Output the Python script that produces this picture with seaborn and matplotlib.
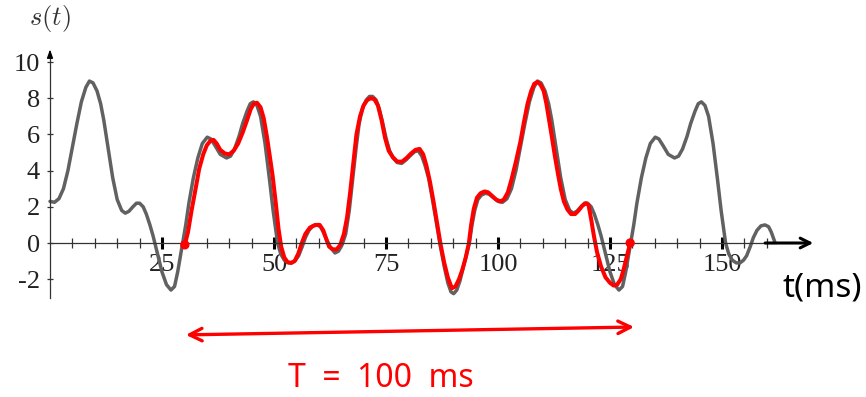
import numpy as np
import matplotlib
matplotlib.use("Agg")
import matplotlib.pyplot as plt
import seaborn as sns

# signal s(t) (t in ms)
gray_t = [0, 1, 2, 3, 4, 5, 6, 7, 8, 8.8, 9.6, 10.5, 11.3, 12, 13, 14, 15, 16, 16.8, 17.6, 18.5, 19.3,
          20, 20.8, 21.5, 22.3, 23, 24, 25, 26, 27, 27.8, 28.5, 29.6, 30.3, 31, 32, 33, 34, 35.1, 35.9,
          36.8, 38, 39.4, 40.3, 41.2, 42.2, 43, 44, 44.7, 45.4, 46.2, 47, 48, 49, 49.8, 50.8, 51.5, 52.3,
          53.2, 54, 54.8, 55.5, 56.3, 57, 57.8, 58.7, 59.6, 60.4, 61, 61.8, 62.5, 63.6, 64.4, 65.2, 66,
          66.8, 67.5, 68.3, 69, 69.8, 70.6, 71.3, 72, 72.8, 73.5, 74.2, 75, 75.8, 76.6, 77.5, 78.5, 79.5,
          80.5, 81.4, 82.2, 83, 83.7, 84.5, 85.3, 86.2, 87, 88, 88.8, 89.5, 90.1, 90.8, 91.5, 92.3, 93,
          93.6, 94.2, 94.8, 95.5, 96.3, 97.2, 98, 99,
          100, 101, 102, 103, 104, 105, 106, 107, 108, 108.8, 109.6, 110.5, 111.3, 112, 113, 114, 115,
          116, 116.8, 117.6, 118.5, 119.3, 120, 120.8, 121.5, 122.3, 123, 124, 125, 126, 127, 127.8,
          128.5, 129.6, 130.3, 131, 132, 133, 134, 135.1, 135.9, 136.8, 138, 139.4, 140.3, 141.2, 142.2,
          143, 144, 144.7, 145.4, 146.2, 147, 148, 149, 149.8, 150.8, 151.5, 152.3, 153.2, 154, 154.8,
          155.5, 156.3, 157, 157.8, 158.7, 159.6, 160.4, 161, 161.8]
gray_s = [2.3, 2.25, 2.45, 3.0, 4.0, 5.3, 6.6, 7.8, 8.6, 8.95, 8.85, 8.4, 7.7, 6.8, 5.2, 3.6, 2.4, 1.8,
          1.65, 1.75, 2.0, 2.2, 2.2, 2.0, 1.6, 1.0, 0.4, -0.6, -1.6, -2.3, -2.6, -2.4, -1.6, 0.0, 1.0,
          2.2, 3.6, 4.7, 5.5, 5.85, 5.75, 5.4, 4.9, 4.7, 4.8, 5.2, 5.9, 6.6, 7.3, 7.7, 7.8, 7.6, 7.0, 5.5,
          3.5, 1.8, 0.0, -0.6, -0.95, -1.1, -1.1, -0.95, -0.7, -0.2, 0.3, 0.7, 0.95, 1.0, 0.9, 0.6, 0.15,
          -0.2, -0.55, -0.45, -0.1, 0.5, 1.8, 3.4, 5.2, 6.6, 7.5, 7.9, 8.1, 8.1, 7.9, 7.4, 6.7, 5.8, 5.1,
          4.7, 4.45, 4.4, 4.6, 4.85, 5.05, 5.1, 4.8, 4.3, 3.6, 2.5, 1.2, 0.0, -1.3, -2.2, -2.7, -2.8,
          -2.6, -2.1, -1.3, -0.6, 0.0, 1.0, 1.8, 2.4, 2.65, 2.75, 2.7, 2.5,
          2.3, 2.25, 2.45, 3.0, 4.0, 5.3, 6.6, 7.8, 8.6, 8.95, 8.85, 8.4, 7.7, 6.8, 5.2, 3.6, 2.4,
          1.8, 1.65, 1.75, 2.0, 2.2, 2.2, 2.0, 1.6, 1.0, 0.4, -0.6, -1.6, -2.3, -2.6, -2.4,
          -1.6, 0.0, 1.0, 2.2, 3.6, 4.7, 5.5, 5.85, 5.75, 5.4, 4.9, 4.7, 4.8, 5.2, 5.9,
          6.6, 7.3, 7.7, 7.8, 7.6, 7.0, 5.5, 3.5, 1.8, 0.0, -0.6, -0.95, -1.1, -1.1, -0.95,
          -0.7, -0.2, 0.3, 0.7, 0.95, 1.0, 0.9, 0.6, 0.05]

# hand traced period (red)
red_t = [30.1, 30.8, 31.6, 32.5, 33.3, 34.2, 35, 35.8, 36.5, 37.2, 38, 39, 40, 41, 42, 43, 44, 44.8, 45.5,
         46.2, 47, 47.7, 48.4, 49, 49.7, 50.4, 51, 51.6, 52.3, 53, 53.8, 54.6, 55.4, 56.2, 57, 58, 59.2,
         60.2, 61, 61.7, 62.3, 63.1, 64, 64.8, 65.6, 66.3, 67, 67.7, 68.4, 69.2, 70, 70.8, 71.6, 72.4,
         73.2, 74, 74.8, 75.6, 76.5, 77.5, 78.6, 79.6, 80.6, 81.6, 82.5, 83.3, 84, 84.8, 85.6, 86.4,
         87.2, 88, 88.8, 89.7, 90.5, 91.3, 92, 92.8, 93.5, 94, 94.6, 95.3, 96.1, 97, 97.8, 98.7, 99.6,
         100.5, 101.3, 102.2, 103, 104, 105, 105.8, 106.6, 107.4, 108.1, 108.8, 109.5, 110.2, 110.8,
         111.4, 112, 112.7, 113.4, 114, 114.7, 115.5, 116.3, 117.2, 118, 118.8, 119.6, 120.2, 120.8,
         121.4, 122.1, 123, 124, 125, 125.8, 126.6, 127.4, 128, 128.6, 129.1, 129.5]
red_s = [-0.1, 0.6, 1.8, 3.0, 4.1, 4.9, 5.4, 5.65, 5.7, 5.5, 5.15, 4.95, 4.9, 5.1, 5.5, 6.1, 6.8, 7.4, 7.7,
         7.75, 7.5, 6.9, 5.9, 4.9, 3.7, 2.2, 0.8, -0.2, -0.8, -1.05, -1.1, -1.0, -0.6, 0.0, 0.5, 0.85, 1.0,
         1.0, 0.7, 0.2, -0.2, -0.35, -0.35, -0.1, 0.5, 1.4, 2.8, 4.4, 6.0, 7.0, 7.6, 7.9, 8.0, 7.95,
         7.6, 6.8, 5.8, 5.1, 4.75, 4.5, 4.5, 4.7, 4.95, 5.15, 5.2, 4.9, 4.3, 3.4, 2.3, 1.1,
         -0.1, -1.1, -1.9, -2.5, -2.4, -2.0, -1.5, -0.8, 0.0, 1.0, 1.9, 2.5, 2.75, 2.85, 2.8, 2.6, 2.4,
         2.3, 2.4, 2.8, 3.5, 4.5, 5.6, 6.7, 7.7, 8.4, 8.8, 8.9, 8.75, 8.4, 7.7,
         6.8, 5.9, 4.8, 3.8, 3.0, 2.3, 1.85, 1.6, 1.6, 1.8, 2.05, 2.2, 2.1, 1.3,
         0.4, -0.5, -1.3, -1.9, -2.2, -2.35, -2.3, -2.0, -1.5, -0.9, -0.4, 0.0]

x_major = [25, 50, 75, 100, 125, 150]
y_major = [-2, 0, 2, 4, 6, 8, 10]
period_ends = [29.7, 131]

sns.set_style("white")
plt.rcParams['font.family'] = ['Liberation Serif', 'DejaVu Serif']
plt.rcParams['mathtext.fontset'] = 'cm'
plt.rcParams['axes.unicode_minus'] = False

fig = plt.figure(figsize=(8.66, 3.97), dpi=100)
ax = fig.add_axes([0, 0, 1, 1])
ax.set_facecolor('white')

sns.lineplot(x=gray_t, y=gray_s, ax=ax, color='#616161', lw=2.5, sort=False, estimator=None,
             solid_joinstyle='round', solid_capstyle='round')
sns.lineplot(x=red_t, y=red_s, ax=ax, color='#ff0000', lw=2.9, sort=False, estimator=None,
             solid_joinstyle='round', solid_capstyle='round')
sns.scatterplot(x=[red_t[0], red_t[-1]], y=[red_s[0], red_s[-1]], ax=ax, color='#ff0000',
                s=45, edgecolor='none', zorder=5)

ax.set_xlim(-11.16, 182.14)
ax.set_ylim(-8.51, 13.43)

for side in ['top', 'right']:
    ax.spines[side].set_visible(False)
ax.spines['left'].set_position(('data', 0))
ax.spines['bottom'].set_position(('data', 0))
ax.spines['left'].set_bounds(-3.05, 10.5)
ax.spines['bottom'].set_bounds(0, 162)
for side in ['left', 'bottom']:
    ax.spines[side].set_color('#333333')
    ax.spines[side].set_linewidth(0.9)

ax.set_xticks(x_major)
ax.set_xticklabels([str(v) for v in x_major])
ax.set_xticks(np.arange(5, 161, 5), minor=True)
ax.set_yticks(y_major)
ax.set_yticklabels([str(v) for v in y_major])
ax.tick_params(axis='x', which='major', direction='inout', length=8.5, width=2.2, color='black',
               bottom=True, pad=3.5, labelsize=19, labelcolor='#222222')
ax.tick_params(axis='x', which='minor', direction='inout', length=7, width=0.9, color='#333333',
               bottom=True)
ax.tick_params(axis='y', direction='inout', length=4.5, width=0.9, color='#333333',
               left=True, pad=5, labelsize=19, labelcolor='#222222')

# y axis arrow head
ax.annotate('', xy=(0, 10.85), xytext=(0, 10.3),
            arrowprops=dict(arrowstyle='-|>,head_length=0.5,head_width=0.18', lw=0.9, color='black'))
ax.text(0, 12.4, '$s(t)$', fontsize=19, ha='center', va='center', color='#333333')

# hand drawn annotations
ax.annotate('', xy=(171, 0), xytext=(159, 0),
            arrowprops=dict(arrowstyle='->,head_length=0.7,head_width=0.35', lw=2.2, color='black'))
ax.text(172.3, -2.5, 't(ms)', fontsize=24, ha='center', va='center', color='black',
        family=['Noto Sans', 'DejaVu Sans'])
ax.annotate('', xy=(period_ends[1], -4.64), xytext=(period_ends[0], -5.08),
            arrowprops=dict(arrowstyle='<->,head_length=0.9,head_width=0.45', lw=2.4, color='#ff0000'))
ax.text(73.9, -7.5, 'T  =  100  ms', fontsize=23, ha='center', va='center', color='#ff0000',
        family=['Noto Sans', 'DejaVu Sans'])

fig.savefig('out.png', dpi=100)
